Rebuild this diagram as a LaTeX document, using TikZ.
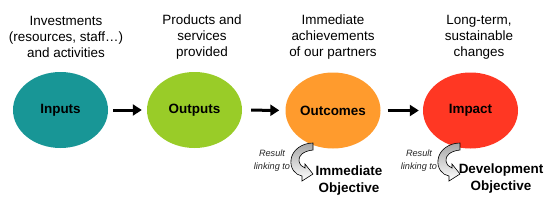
\documentclass[tikz,border=0pt]{standalone}
\usepackage{fontspec}
\setmainfont{Liberation Sans}
\usetikzlibrary{shapes.geometric,arrows.meta}
\definecolor{cin}{RGB}{24,150,150}
\definecolor{cout}{RGB}{153,204,40}
\definecolor{coc}{RGB}{255,155,45}
\definecolor{cimp}{RGB}{255,55,35}
\begin{document}
\begin{tikzpicture}[x=1bp,y=-1bp,
 stage/.style={ellipse,minimum width=95bp,minimum height=76bp,inner sep=0pt,font=\fontsize{13.5}{16}\selectfont\bfseries},
 headtxt/.style={align=center,font=\fontsize{13.5}{16}\selectfont},
 flow/.style={line width=3bp,-{Triangle[length=9bp,width=11bp]}},
 linktxt/.style={align=center,font=\fontsize{9.2}{13}\selectfont\itshape,text=black!85},
 objtxt/.style={align=center,font=\fontsize{13.5}{17}\selectfont\bfseries},
 curl/.style={draw=black,line width=0.6bp,top color=black!35,bottom color=white}]
\useasboundingbox (0,0) rectangle (548,217);
% stages
\node[stage,fill=cin] (in) at (60.5,110) {Inputs};
\node[stage,fill=cout] (out) at (194.5,110) {Outputs};
\node[stage,fill=coc] (oc) at (333,110.5) {Outcomes};
\node[stage,fill=cimp] (imp) at (470.5,110.5) {Impact};
% flows
\draw[flow,shorten <=5bp,shorten >=5bp] (in) -- (out);
\draw[flow,shorten <=9bp,shorten >=6bp] (out) -- (oc);
\draw[flow,shorten <=7bp,shorten >=4bp] (oc) -- (imp);
% headings
\node[headtxt] (hin) at (66,37) {Investments\\(resources, staff…)\\and activities};
\node[headtxt] (hout) at (202,37) {Products and\\services\\provided};
\node[headtxt] (hoc) at (333,37) {Immediate\\achievements\\of our partners};
\node[headtxt] (himp) at (479,37) {Long-term,\\sustainable\\changes};
% result links
\node[linktxt] (l1) at (272,160.5) {Result\\linking to};
\node[linktxt] (l2) at (419,160.5) {Result\\linking to};
\node[objtxt] (o1) at (349,180.5) {Immediate\\Objective};
\node[objtxt] (o2) at (501,178.5) {Development\\Objective};
% curled arrows
\path[curl] (313,143) -- (313,150) .. controls (303,151) and (298,156) .. (299,161)
  .. controls (300,165) and (302,167) .. (305,168) -- (305,164) -- (313,174) -- (302,181) -- (302,176)
  .. controls (295,175) and (290,168) .. (291,160) .. controls (292,150) and (302,143) .. (313,143) -- cycle;
\begin{scope}[shift={(147,0)}]
\path[curl] (313,143) -- (313,150) .. controls (303,151) and (298,156) .. (299,161)
  .. controls (300,165) and (302,167) .. (305,168) -- (305,164) -- (313,174) -- (302,181) -- (302,176)
  .. controls (295,175) and (290,168) .. (291,160) .. controls (292,150) and (302,143) .. (313,143) -- cycle;
\end{scope}
\end{tikzpicture}
\end{document}
